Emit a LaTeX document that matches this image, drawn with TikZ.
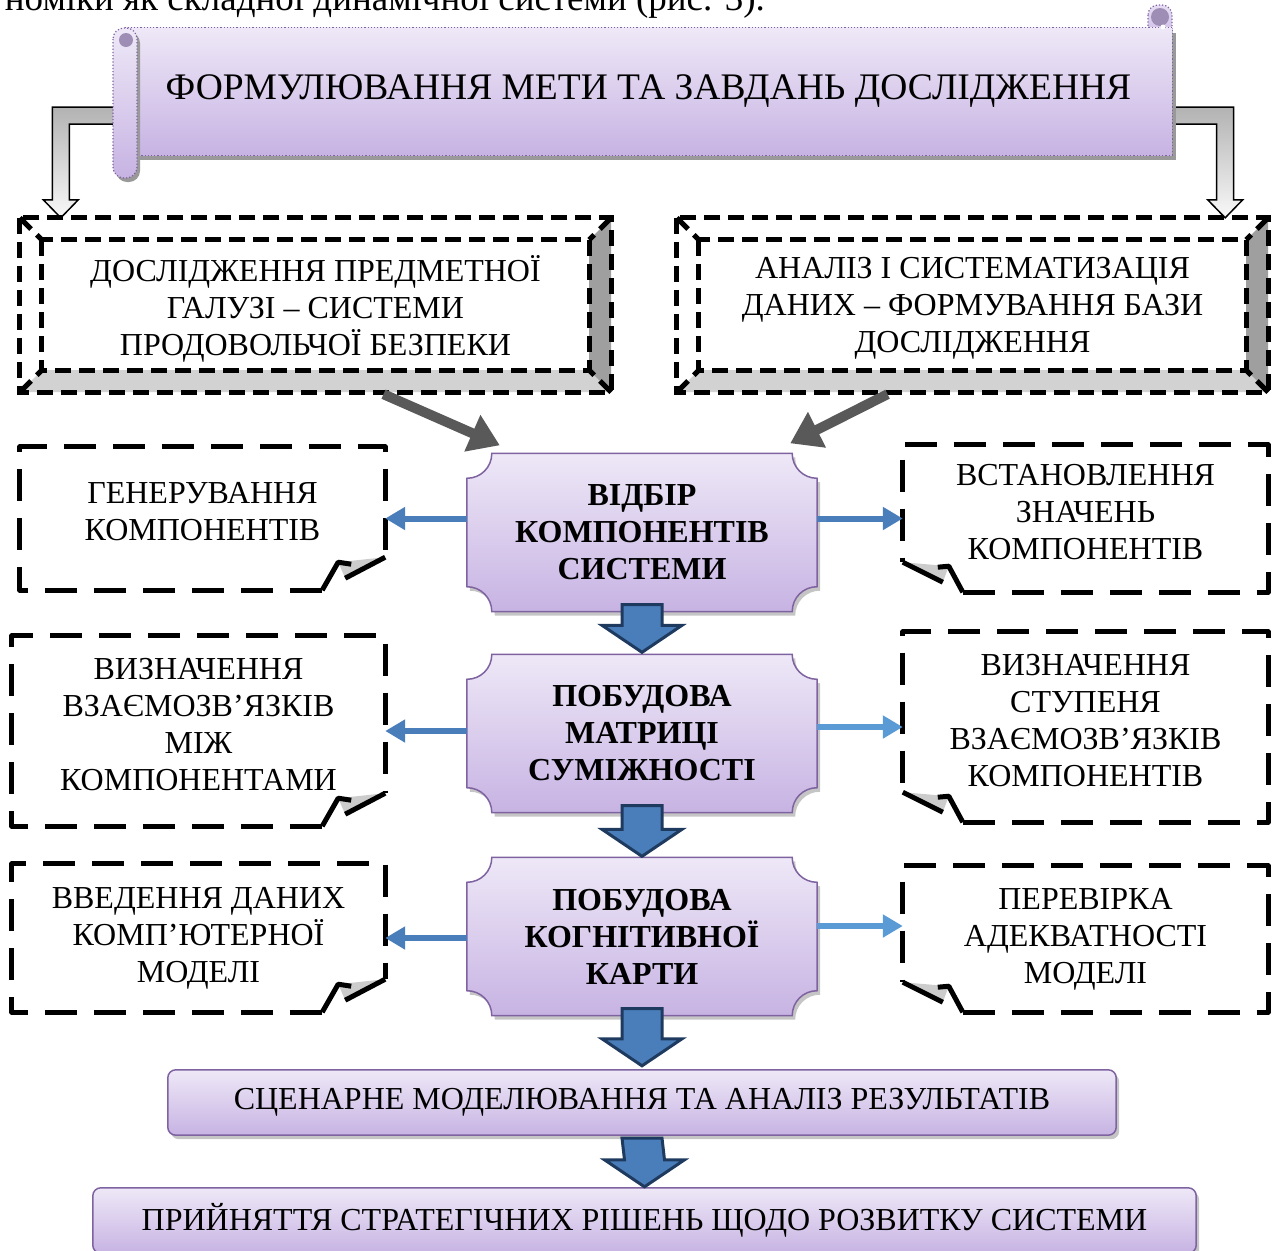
\documentclass[tikz,border=0pt]{standalone}
\usepackage{fontspec}
\setmainfont{Liberation Serif}
\usepackage{tikz}
\usetikzlibrary{positioning,calc,arrows.meta,shadows,backgrounds}

\definecolor{lilactop}{HTML}{EEE8F7}
\definecolor{lilacbot}{HTML}{C7B3E3}
\definecolor{lilacline}{HTML}{7F63A1}
\definecolor{curldot}{HTML}{9E8EB5}
\definecolor{steelblue}{HTML}{4A7EBB}
\definecolor{skyblue}{HTML}{5B9BD5}
\definecolor{navyline}{HTML}{1F3A5F}
\definecolor{arrowgray}{HTML}{595959}

% double dashed frame with bevel
\newcommand{\bevelframe}[1]{%
  \fill[gray!35] ($(#1.south west)+(22,-22)$) -- ($(#1.south east)+(-22,-22)$)
    -- (#1.south east) -- (#1.south west) -- cycle;
  \fill[gray!75] ($(#1.north east)+(-22,22)$) -- (#1.north east)
    -- (#1.south east) -- ($(#1.south east)+(-22,-22)$) -- cycle;
  \draw[bevelline] (#1.north west) rectangle (#1.south east);
  \draw[bevelline] ($(#1.north west)+(22,22)$) rectangle ($(#1.south east)+(-22,-22)$);
  \draw[bevelline] (#1.north west) -- ++(22,22);
  \draw[bevelline] (#1.north east) -- ++(-22,22);
  \draw[bevelline] (#1.south west) -- ++(22,-22);
  \draw[bevelline] (#1.south east) -- ++(-22,-22);}

% dashed note, corner turned at bottom right
\newcommand{\foldleft}[1]{%
  \fill[gray!40] ($(#1.south east)+(0,-33)$) -- ($(#1.south east)+(-47,-28)$)
    -- ($(#1.south east)+(-40,-12)$) -- cycle;
  \draw[noteline] ($(#1.south east)+(-63,0)$) -- (#1.south west) -- (#1.north west)
    -- (#1.north east) -- ($(#1.south east)+(0,-33)$);
  \draw[foldline] ($(#1.south east)+(0,-33)$) -- ($(#1.south east)+(-40,-12)$);
  \draw[foldline] ($(#1.south east)+(-63,0)$) -- ($(#1.south east)+(-47,-28)$)
    -- ($(#1.south east)+(-34,-26)$);}

% dashed note, corner turned at bottom left
\newcommand{\foldright}[1]{%
  \fill[gray!40] ($(#1.south west)+(0,-30)$) -- ($(#1.south west)+(46,-26)$)
    -- ($(#1.south west)+(40,-10)$) -- cycle;
  \draw[noteline] ($(#1.south west)+(60,0)$) -- (#1.south east) -- (#1.north east)
    -- (#1.north west) -- ($(#1.south west)+(0,-30)$);
  \draw[foldline] ($(#1.south west)+(0,-30)$) -- ($(#1.south west)+(40,-10)$);
  \draw[foldline] ($(#1.south west)+(60,0)$) -- ($(#1.south west)+(46,-26)$)
    -- ($(#1.south west)+(35,-25)$);}

% plaque with concave corners
\newcommand{\plaqueshape}[1]{%
  \draw[lilacfill]
    ($(#1.north west)+(25,0)$) -- ($(#1.north east)+(-25,0)$)
    .. controls ($(#1.north east)+(-25,14)$) and ($(#1.north east)+(-14,25)$) .. ($(#1.north east)+(0,25)$)
    -- ($(#1.south east)+(0,-25)$)
    .. controls ($(#1.south east)+(-14,-25)$) and ($(#1.south east)+(-25,-14)$) .. ($(#1.south east)+(-25,0)$)
    -- ($(#1.south west)+(25,0)$)
    .. controls ($(#1.south west)+(25,-14)$) and ($(#1.south west)+(14,-25)$) .. ($(#1.south west)+(0,-25)$)
    -- ($(#1.north west)+(0,25)$)
    .. controls ($(#1.north west)+(14,25)$) and ($(#1.north west)+(25,14)$) .. ($(#1.north west)+(25,0)$)
    -- cycle;}

% fat blue arrow downwards
\newcommand{\blockdown}[2]{%
  \draw[blockarrow] ($(#1)+(-20,0)$) -- ($(#1)+(20,0)$) -- ($(#2)+(20,-27)$)
    -- ($(#2)+(40,-27)$) -- (#2) -- ($(#2)+(-40,-27)$) -- ($(#2)+(-20,-27)$) -- cycle;}

% bent grey arrow, #3 = -1 to the left, 1 to the right
\newcommand{\bentdown}[3]{%
  \draw[bentarrow] ($(#1)+(0,-8.5)$) -- ($(#2 |- #1)+(#3*8.5,-8.5)$)
    -- ($(#2)+(#3*8.5,-18)$) -- ($(#2)+(#3*17.5,-18)$) -- (#2)
    -- ($(#2)+(-#3*17.5,-18)$) -- ($(#2)+(-#3*8.5,-18)$)
    -- ($(#2 |- #1)+(-#3*8.5,8.5)$) -- ($(#1)+(0,8.5)$) -- cycle;}

\begin{document}
\begin{tikzpicture}[
    x=1pt,y=-1pt,
    txt/.style={align=center,inner sep=0pt,font=\fontsize{32}{37}\selectfont},
    goalbox/.style={txt,minimum width=1047,minimum height=127,font=\fontsize{37.5}{44}\selectfont},
    bevelbox/.style={txt,minimum width=591,minimum height=174},
    notebox/.style={txt,minimum height=146},
    raised/.style={text depth=14pt},
    plaque/.style={txt,minimum width=350,minimum height=158,font=\fontsize{32}{37}\selectfont\bfseries},
    barbox/.style={txt,minimum height=65},
    bevelline/.style={line width=5pt,dash pattern=on 16pt off 8pt,line cap=butt},
    noteline/.style={line width=5pt,dash pattern=on 32pt off 17pt,line join=round},
    foldline/.style={line width=5pt,line join=round},
    lilacfill/.style={draw=lilacline,line width=1.5pt,top color=lilactop,bottom color=lilacbot,
      drop shadow={shadow xshift=3pt,shadow yshift=-4pt,fill=black!45}},
    scrollline/.style={draw=lilacline,line width=1.2pt,dotted,top color=lilactop,bottom color=lilacbot},
    blockarrow/.style={draw=navyline,line width=3pt,fill=steelblue,line join=miter},
    bentarrow/.style={draw=black,line width=1.5pt,top color=gray!60,bottom color=gray!5},
    grayarrow/.style={draw=arrowgray,line width=10pt,-{Triangle[length=30pt,width=38pt]}},
    sidearrow/.style={draw=steelblue,line width=6pt,-{Triangle[length=20pt,width=22pt]}}
  ]
  \useasboundingbox (0,0) rectangle (1278,1251);

  \node[txt,anchor=base east,font=\fontsize{37}{44}\selectfont] (prev) at (765,10) {номіки як складної динамічної системи (рис. 3).};

  \node[goalbox] (goal) at (648.5,91.5) {ФОРМУЛЮВАННЯ МЕТИ ТА ЗАВДАНЬ ДОСЛІДЖЕННЯ};

  \node[bevelbox,text depth=0pt] (dom) at (315.5,305) {ДОСЛІДЖЕННЯ ПРЕДМЕТНОЇ\\ГАЛУЗІ – СИСТЕМИ\\ПРОДОВОЛЬЧОЇ БЕЗПЕКИ};
  \node[bevelbox,text depth=0pt] (ana) at (972.5,305) {АНАЛІЗ І СИСТЕМАТИЗАЦІЯ\\ДАНИХ – ФОРМУВАННЯ БАЗИ\\ДОСЛІДЖЕННЯ};

  \node[plaque] (sel) at (642,532.5) {ВІДБІР\\КОМПОНЕНТІВ\\СИСТЕМИ};
  \node[plaque] (mat) at (642,733.5) {ПОБУДОВА\\МАТРИЦІ\\СУМІЖНОСТІ};
  \node[plaque] (cog) at (642,936.5) {ПОБУДОВА\\КОГНІТИВНОЇ\\КАРТИ};

  \node[notebox,raised,minimum width=365,minimum height=143] (gen) at (202.5,518.5) {ГЕНЕРУВАННЯ\\КОМПОНЕНТІВ};
  \node[notebox,raised,minimum width=373,minimum height=190] (rel) at (198.5,731) {ВИЗНАЧЕННЯ\\ВЗАЄМОЗВ’ЯЗКІВ\\МІЖ\\КОМПОНЕНТАМИ};
  \node[notebox,minimum width=373,minimum height=148] (inp) at (198.5,938) {ВВЕДЕННЯ ДАНИХ\\КОМП’ЮТЕРНОЇ\\МОДЕЛІ};
  \node[notebox,raised,minimum width=365,minimum height=147] (val) at (1085.5,518.5) {ВСТАНОВЛЕННЯ\\ЗНАЧЕНЬ\\КОМПОНЕНТІВ};
  \node[notebox,raised,minimum width=365,minimum height=190] (deg) at (1085.5,727) {ВИЗНАЧЕННЯ\\СТУПЕНЯ\\ВЗАЄМОЗВ’ЯЗКІВ\\КОМПОНЕНТІВ};
  \node[notebox,minimum width=365,minimum height=146] (chk) at (1085.5,939) {ПЕРЕВІРКА\\АДЕКВАТНОСТІ\\МОДЕЛІ};

  \node[barbox,minimum width=948] (scen) at (642,1102.5) {СЦЕНАРНЕ МОДЕЛЮВАННЯ ТА АНАЛІЗ РЕЗУЛЬТАТІВ};
  \node[barbox,minimum width=1103] (dec) at (644.5,1220.5) {ПРИЙНЯТТЯ СТРАТЕГІЧНИХ РІШЕНЬ ЩОДО РОЗВИТКУ СИСТЕМИ};

  \coordinate (lbS) at ($(goal.west)+(0,24)$);
  \coordinate (lbT) at ($(dom.north west)+(41,0)$);
  \coordinate (rbS) at ($(goal.east)+(0,24)$);
  \coordinate (rbT) at ($(ana.north east)+(-43,0)$);

  \begin{scope}[on background layer]
    % bent arrows from the scroll
    \bentdown{lbS}{lbT}{-1}
    \bentdown{rbS}{rbT}{1}
    % the scroll
    \draw[scrollline,top color=lilactop!80!lilacbot,rounded corners=10pt] (1148,5) rectangle (1172,45);
    \fill[black!40] ($(goal.north west)+(4,5)$) rectangle ($(goal.south east)+(4,5)$);
    \draw[scrollline] (goal.north west) rectangle (goal.south east);
    \fill[black!40,rounded corners=11pt] (116,32) rectangle (140,182);
    \draw[scrollline,rounded corners=11pt] (113,28) rectangle (137,178);
    \fill[curldot] (126,40) circle (7);
    \fill[curldot] (1160,17) circle (9);
    \fill[white] (1163,27) circle (2.5);
    % framed boxes
    \bevelframe{dom}
    \bevelframe{ana}
    % plaques and bars
    \plaqueshape{sel}
    \plaqueshape{mat}
    \plaqueshape{cog}
    \draw[lilacfill,rounded corners=8pt] (scen.north west) rectangle (scen.south east);
    \draw[lilacfill,rounded corners=8pt] (dec.north west) rectangle (dec.south east);
    % notes
    \foldleft{gen}
    \foldleft{rel}
    \foldleft{inp}
    \foldright{val}
    \foldright{deg}
    \foldright{chk}
    % arrows
    \draw[grayarrow] ($(dom.south)+(68,2)$) -- ($(sel.north west)+(33,-8)$);
    \draw[grayarrow] ($(ana.south)+(-85,2)$) -- ($(sel.north east)+(-27,-10)$);
    \draw[sidearrow] (sel.west |- gen.east) -- (gen.east);
    \draw[sidearrow] (sel.east |- val.west) -- (val.west);
    \draw[sidearrow] (mat.west |- rel.east) -- (rel.east);
    \draw[sidearrow,draw=skyblue] (mat.east |- deg.west) -- (deg.west);
    \draw[sidearrow] (cog.west |- inp.east) -- (inp.east);
    \draw[sidearrow,draw=skyblue] (cog.east |- 0,926) -- (chk.west |- 0,926);
    \blockdown{$(sel.south)+(0,-7)$}{$(mat.north)+(0,-2)$}
    \blockdown{$(mat.south)+(0,-7)$}{$(cog.north)+(0,-1)$}
    \blockdown{$(cog.south)+(0,-7)$}{$(scen.north)+(0,-4)$}
    \blockdown{$(scen.south)+(0,3)$}{$(dec.north)+(0,-1)$}
  \end{scope}
\end{tikzpicture}
\end{document}
